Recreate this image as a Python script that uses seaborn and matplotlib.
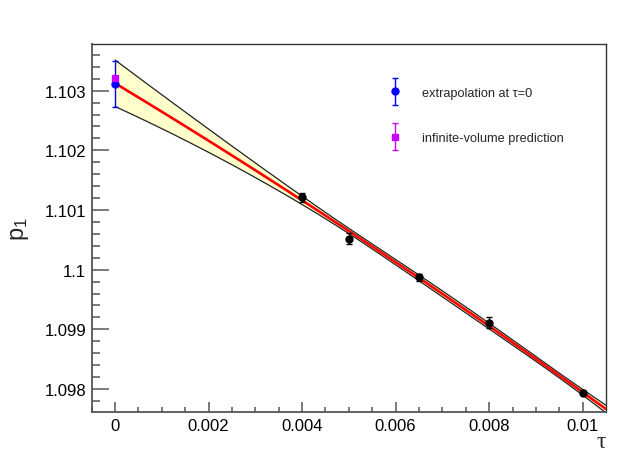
import numpy as np
import pandas as pd
import matplotlib
matplotlib.use("Agg")
import matplotlib.pyplot as plt
import seaborn as sns
from matplotlib.ticker import MultipleLocator, FuncFormatter
from matplotlib.legend_handler import HandlerErrorbar

# measured points at finite tau
tau = [0.004, 0.005, 0.0065, 0.008, 0.01]
p1 = [1.10121, 1.10052, 1.09987, 1.09911, 1.09794]
p1_err = [0.000076, 0.000095, 0.000057, 0.000095, 0.000048]

# extrapolated value and prediction at tau = 0
extrap_p1 = 1.10311
extrap_err = 0.00039
pred_p1 = 1.10321
pred_err = 0.00002

legend_labels = ["extrapolation at \u03c4=0", "infinite-volume prediction"]


def tick_fmt(v, pos):
    return ("%.4f" % v).rstrip("0").rstrip(".") if abs(v) > 1e-12 else "0"


def make_plot():
    sns.set_theme(style="ticks")
    plt.rcParams["font.family"] = ["Liberation Sans", "DejaVu Sans"]
    plt.rcParams["mathtext.default"] = "regular"

    df = pd.DataFrame({"tau": tau, "p1": p1, "err": p1_err})

    # weighted quadratic fit in tau, with its 1-sigma band
    coef, cov = np.polyfit(df["tau"], df["p1"], 2, w=1.0 / df["err"], cov="unscaled")
    xs = np.linspace(0.0, 0.0105, 300)
    basis = np.vstack([xs ** 2, xs, np.ones_like(xs)]).T
    ys = basis @ coef
    sig = np.sqrt(np.einsum("ij,jk,ik->i", basis, cov, basis))
    fit_df = pd.DataFrame({"tau": xs, "p1": ys})

    fig = plt.figure(figsize=(6.28, 4.60), dpi=100)
    ax = fig.add_axes([0.146, 0.1015, 0.819, 0.8005])

    ax.fill_between(xs, ys - sig, ys + sig, color="#ffffcc", lw=0, zorder=1)
    ax.plot(xs, ys + sig, color="#222222", lw=0.9, zorder=2)
    ax.plot(xs, ys - sig, color="#222222", lw=0.9, zorder=2)
    sns.lineplot(data=fit_df, x="tau", y="p1", color="red", lw=1.9, ax=ax,
                 legend=False, zorder=3)

    ax.errorbar(df["tau"], df["p1"], yerr=df["err"], fmt="o", color="black",
                ms=5, capsize=2, elinewidth=1, capthick=1, zorder=4)
    h_ext = ax.errorbar([0.0], [extrap_p1], yerr=[extrap_err], fmt="o", color="blue",
                        ms=5, capsize=2.2, elinewidth=1, capthick=1, zorder=5,
                        label=legend_labels[0])
    h_pred = ax.errorbar([0.0], [pred_p1], yerr=[pred_err], fmt="s", color="#cc00ff",
                         ms=4.5, capsize=2.2, elinewidth=1, capthick=1, zorder=6,
                         label=legend_labels[1])

    ax.set_xlim(-0.0005, 0.0105)
    ax.set_ylim(1.09761, 1.10378)

    ax.xaxis.set_major_locator(MultipleLocator(0.002))
    ax.xaxis.set_minor_locator(MultipleLocator(0.0005))
    ax.yaxis.set_major_locator(MultipleLocator(0.001))
    ax.yaxis.set_minor_locator(MultipleLocator(0.0002))
    ax.xaxis.set_major_formatter(FuncFormatter(tick_fmt))
    ax.yaxis.set_major_formatter(FuncFormatter(tick_fmt))

    ax.tick_params(axis="both", which="both", direction="in", colors="#555555",
                   labelcolor="black", labelsize=12, width=1.1, pad=4)
    ax.tick_params(axis="y", which="major", length=12)
    ax.tick_params(axis="y", which="minor", length=6)
    ax.tick_params(axis="x", which="major", length=7)
    ax.tick_params(axis="x", which="minor", length=3.5)
    for side in ["left", "bottom"]:
        ax.spines[side].set_color("#555555")
        ax.spines[side].set_linewidth(1.3)
    for side in ["top", "right"]:
        ax.spines[side].set_color("#333333")
        ax.spines[side].set_linewidth(1.0)

    ax.set_ylabel("p$_{1}$", fontsize=17, va="center")
    ax.yaxis.set_label_coords(-0.14, 0.5)
    ax.set_xlabel("\u03c4", fontsize=17, ha="right", va="center",
                  family=["Liberation Serif", "DejaVu Serif"])
    ax.xaxis.set_label_coords(1.0, -0.078)

    ax.legend(handles=[h_ext, h_pred], loc="upper left", bbox_to_anchor=(0.555, 0.915),
              frameon=False, fontsize=9.2, handlelength=1.0, handletextpad=1.6,
              labelspacing=2.6,
              handler_map={type(h_ext): HandlerErrorbar(yerr_size=1.05)})

    fig.savefig("out.png", dpi=100)


if __name__ == "__main__":
    make_plot()
